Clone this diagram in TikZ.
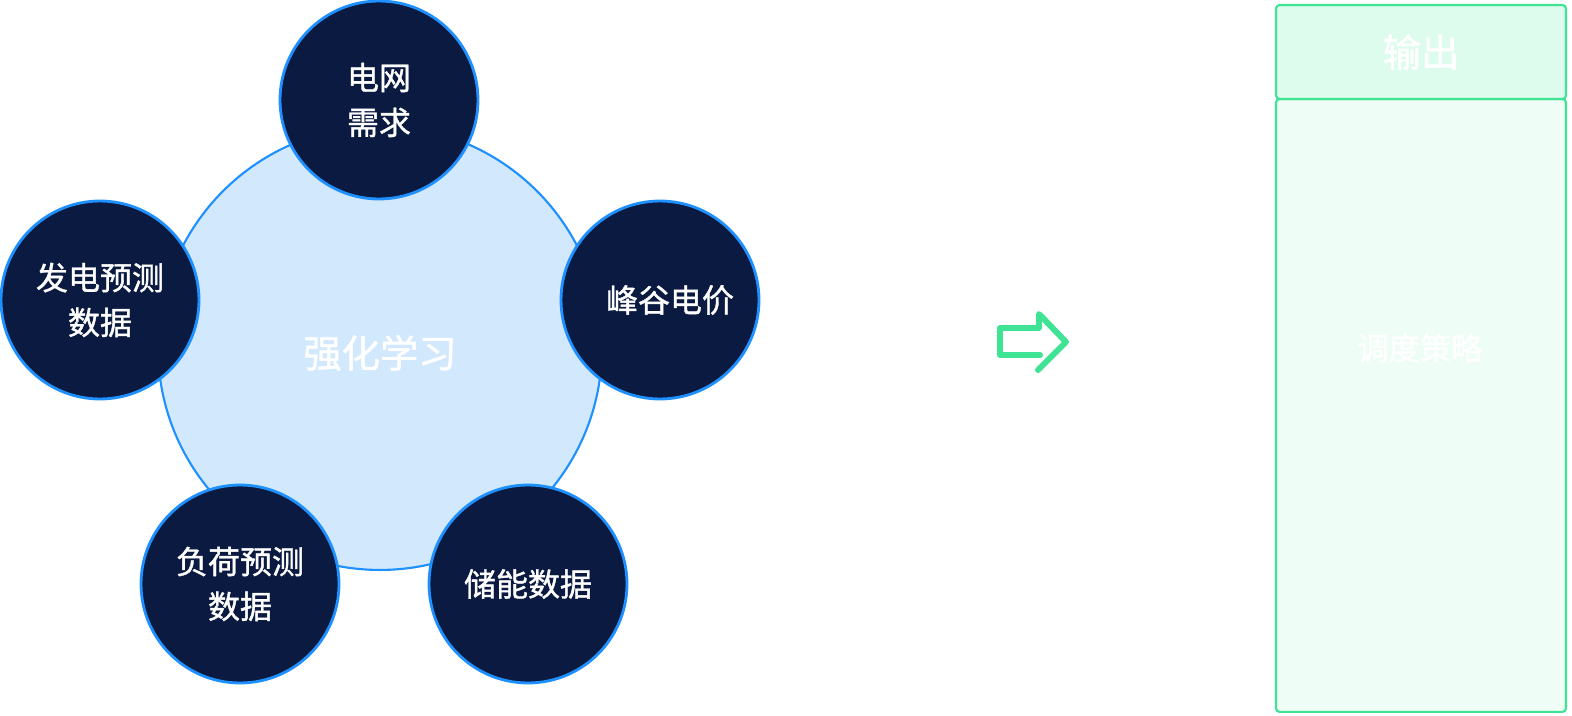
\documentclass[tikz,border=0pt]{standalone}
\usepackage{fontspec}
\setmainfont{Noto Sans CJK SC}
\newfontfamily\medfont[FakeBold=1.2]{Noto Sans CJK SC}
\usepackage{tikz}
\usetikzlibrary{positioning}

\definecolor{rlfill}{RGB}{209,232,253}
\definecolor{rlline}{RGB}{30,144,255}
\definecolor{navy}{RGB}{10,26,64}
\definecolor{outgreen}{RGB}{62,227,148}
\definecolor{outhead}{RGB}{222,252,238}
\definecolor{outbody}{RGB}{238,254,246}

\begin{document}
\begin{tikzpicture}[
  x=0.02cm, y=-0.02cm,
  core/.style={circle, draw=rlline, line width=1.2pt, fill=rlfill, minimum size=8.88cm, inner sep=0pt},
  factor/.style={circle, draw=rlline, line width=1.6pt, fill=navy, minimum size=3.96cm, inner sep=0pt,
    align=center, text=white, font=\medfont\fontsize{18.2}{25.5}\selectfont},
  panel/.style={draw=outgreen, line width=1.2pt, rounded corners=2pt, minimum width=5.8cm, inner sep=0pt, text=white}
]
  \useasboundingbox (0,0) rectangle (1572,716);

  % reinforcement learning core with its five inputs
  \node[core] (rl) at (380,348) {};
  \node[text=white, font=\medfont\fontsize{21.8}{25}\selectfont] (rltext) at (380,353) {强化学习};

  \node[factor] (grid)   at (379,100) {电网\\需求};
  \node[factor] (price)  at (660,300) {\hspace*{0.4cm}峰谷电价};
  \node[factor] (store)  at (528,584) {储能数据};
  \node[factor] (load)   at (240,584) {负荷预测\\数据};
  \node[factor] (gen)    at (100,300) {发电预测\\数据};

  % output arrow
  \draw[outgreen, line width=3.4pt, line cap=round, line join=round]
    (1040,355) -- (1000,355) -- (1000,328) -- (1039,328) -- (1039,314)
    -- (1066,342) -- (1038,370);

  % output panel
  \node[panel, fill=outbody, minimum height=12.26cm] (body) at (1421,405.5) {};
  \node[panel, fill=outhead, minimum height=1.88cm, font=\medfont\fontsize{21.8}{25}\selectfont] (head) at (1421,52) {输出};
  \node[text=white, font=\medfont\fontsize{17.8}{22}\selectfont] (policy) at (1420,348) {调度策略};
\end{tikzpicture}
\end{document}
